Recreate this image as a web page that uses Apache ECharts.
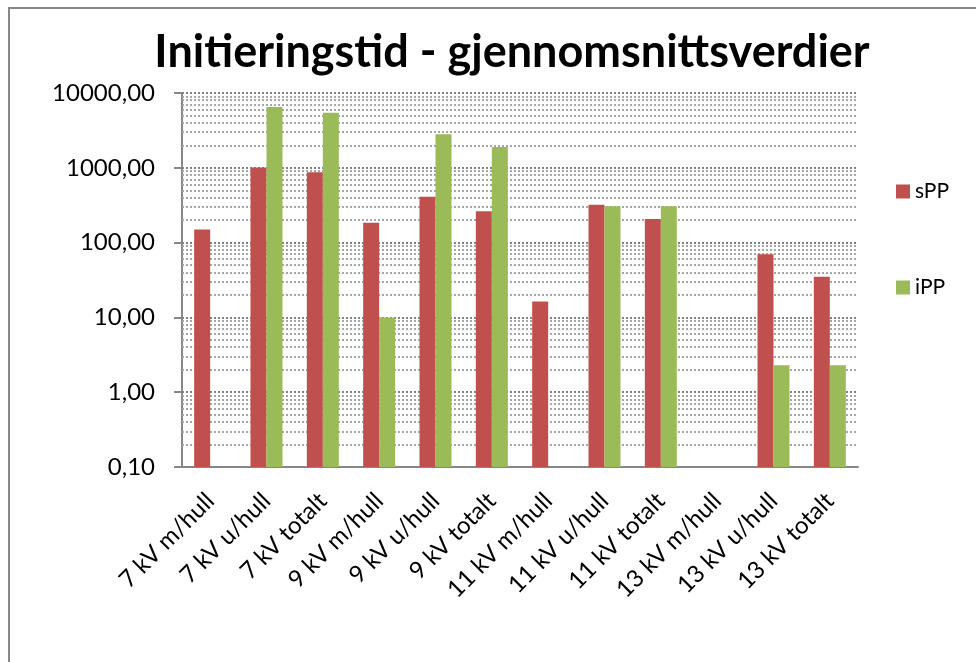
<!DOCTYPE html>
<html>
    <head>
        <title>Initieringstid</title>
        <meta charset="UTF-8">
        <script src="https://cdn.jsdelivr.net/npm/echarts@6/dist/echarts.min.js"></script>
        <style>
            body { margin: 0; background: #fff; }
        </style>
    </head>
    <body>
        <div id="chart" style="width: 976px; height: 662px;"></div>
        <script>
            const categories = ['7 kV m/hull', '7 kV u/hull', '7 kV totalt', '9 kV m/hull', '9 kV u/hull', '9 kV totalt',
                '11 kV m/hull', '11 kV u/hull', '11 kV totalt', '13 kV m/hull', '13 kV u/hull', '13 kV totalt'];
            const sPP = [150, 1010, 870, 184, 410, 262, 16.3, 320, 206, null, 70, 35];
            const iPP = [null, 6500, 5450, 10, 2800, 1890, null, 307, 307, null, 2.3, 2.3];
            // dotted minor grid lines (2..9 of every decade)
            const minorGrid = [
                0.2, 0.3, 0.4, 0.5, 0.6, 0.7, 0.8, 0.9,
                2, 3, 4, 5, 6, 7, 8, 9,
                20, 30, 40, 50, 60, 70, 80, 90,
                200, 300, 400, 500, 600, 700, 800, 900,
                2000, 3000, 4000, 5000, 6000, 7000, 8000, 9000
            ];

            const font = 'Lato, "Open Sans", sans-serif';
            const chart = echarts.init(document.getElementById('chart'));

            chart.setOption({
                animation: false,
                title: {
                    text: 'Initieringstid - gjennomsnittsverdier',
                    left: 507,
                    textAlign: 'center',
                    top: 25,
                    textStyle: { fontFamily: font, fontWeight: 'bold', fontSize: 45, color: '#000' }
                },
                legend: {
                    orient: 'vertical',
                    left: 891,
                    top: 176,
                    itemWidth: 14,
                    itemHeight: 14,
                    itemGap: 75,
                    icon: 'rect',
                    textStyle: { fontFamily: font, fontSize: 21, color: '#000' }
                },
                graphic: [{
                    type: 'rect',
                    shape: { x: 9, y: 8, width: 1000, height: 700 },
                    style: { fill: null, stroke: '#878787', lineWidth: 2 },
                    silent: true
                }],
                grid: { left: 182, right: 118, top: 93, bottom: 195 },
                xAxis: {
                    type: 'category',
                    data: categories,
                    axisLine: { lineStyle: { color: '#878787', width: 2 } },
                    axisTick: { length: 7, lineStyle: { color: '#878787', width: 2 } },
                    axisLabel: {
                        interval: 0,
                        rotate: 45,
                        margin: 30,
                        fontFamily: font,
                        fontSize: 24,
                        color: '#000'
                    }
                },
                yAxis: {
                    type: 'log',
                    logBase: 10,
                    min: 0.1,
                    max: 10000,
                    startValue: 0.1,
                    axisLine: { show: true, lineStyle: { color: '#878787', width: 2 } },
                    axisTick: { show: true, length: 8, lineStyle: { color: '#878787', width: 2 } },
                    axisLabel: {
                        margin: 27,
                        fontFamily: font,
                        fontSize: 24,
                        color: '#000',
                        formatter: v => Number(v).toFixed(2).replace('.', ',')
                    },
                    splitLine: { lineStyle: { color: '#808080', type: [2, 2], width: 2 } }
                },
                series: [
                    {
                        name: 'sPP',
                        type: 'bar',
                        data: sPP,
                        barWidth: 16,
                        barGap: '0%',
                        itemStyle: { color: '#C0504D' },
                        markLine: {
                            silent: true,
                            z: 1,
                            symbol: 'none',
                            label: { show: false },
                            lineStyle: { color: '#a6a6a6', type: [2, 2], width: 2 },
                            data: minorGrid.map(v => ({ yAxis: v }))
                        }
                    },
                    {
                        name: 'iPP',
                        type: 'bar',
                        data: iPP,
                        barWidth: 16,
                        barGap: '0%',
                        itemStyle: { color: '#9BBB59' }
                    }
                ]
            });
        </script>
    </body>
</html>
